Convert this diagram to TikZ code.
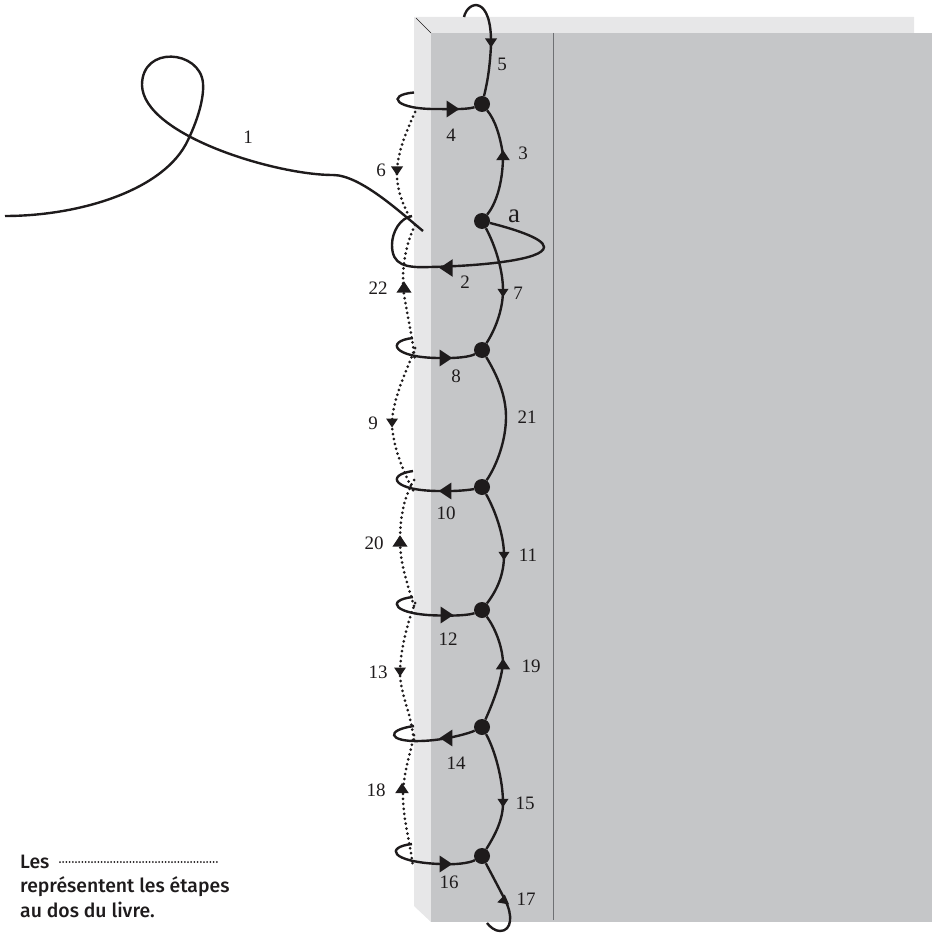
\documentclass[tikz,border=0pt]{standalone}
\usepackage{fontspec}
\setmainfont{Liberation Serif}
\newfontfamily\legendfont{Fira Sans Medium}
\usetikzlibrary{calc}
\definecolor{pagegray}{RGB}{197,198,200}
\definecolor{edgegray}{RGB}{231,231,232}
\definecolor{rulegray}{RGB}{110,112,115}
\definecolor{ink}{RGB}{30,27,28}
\tikzset{
  thread/.style={draw=ink,line width=2.4pt,line cap=butt},
  backthread/.style={draw=ink,line width=3pt,line cap=round,dash pattern=on 0pt off 5pt},
  knot/.style={circle,fill=ink,inner sep=0pt,minimum size=16pt},
  num/.style={text=ink,font=\fontsize{19}{21}\selectfont,inner sep=0pt},
  legendtext/.style={text=ink,font=\legendfont\fontsize{19.4}{21}\selectfont,inner sep=0pt,anchor=base west},
}
\newcommand{\tip}[4]{\fill[ink,shift={(#1,#2)},rotate=#3,scale=#4] (6,0) -- (-6,-8) -- (-6,8) -- cycle;}
\begin{document}
\begin{tikzpicture}[x=1pt,y=-1pt]
\useasboundingbox (0,0) rectangle (932,933);
% book
\fill[edgegray] (414,17) -- (914,17) -- (914,33) -- (431,33) -- (431,922) -- (414,906) -- cycle;
\fill[pagegray] (431,33) rectangle (932,922);
\draw[ink,line width=0.6pt] (416,18) -- (431,33);
\draw[rulegray,line width=1.1pt] (553.5,33) -- (553.5,920);
% knots
\node[knot] (k4) at (482,104) {};
\node[knot] (ka) at (482,221) {};
\node[knot] (k8) at (482,350) {};
\node[knot] (k10) at (482,487) {};
\node[knot] (k12) at (482,610) {};
\node[knot] (k14) at (482,727) {};
\node[knot] (k16) at (482,856) {};
% free ends
\coordinate (e5) at (464,17);
\coordinate (e4) at (414,92.5);
\coordinate (e2) at (412,216);
\coordinate (e8) at (413,338);
\coordinate (e10) at (413,471);
\coordinate (e12) at (413,597);
\coordinate (e14) at (414,726);
\coordinate (e16) at (412,844);
\coordinate (e17) at (487,923);
\coordinate (t0) at (5,216);
\coordinate (t1) at (423,231);
% back stitches
\draw[backthread] (415,112) .. controls (405,135) and (396,155) .. (397,178) .. controls (398,192) and (403,205) .. (411,220);
\draw[backthread] (415,225) .. controls (408,240) and (403,258) .. (403,280) .. controls (403,300) and (410,320) .. (415,360);
\draw[backthread] (415,348) .. controls (405,375) and (392,400) .. (392,425) .. controls (393,445) and (402,470) .. (414,492);
\draw[backthread] (414,480) .. controls (405,495) and (400,515) .. (400,540) .. controls (400,565) and (408,585) .. (414,606);
\draw[backthread] (415,603) .. controls (407,625) and (400,650) .. (400,675) .. controls (401,695) and (410,710) .. (414,740);
\draw[backthread] (414,735) .. controls (410,755) and (403,775) .. (403,795) .. controls (403,820) and (410,840) .. (413,868);
% thread 1
\draw[thread] (t0) .. controls (80,216) and (165,190) .. (188,140)
  .. controls (200,115) and (204,95) .. (203,83)
  .. controls (200,50) and (142,45) .. (142,85)
  .. controls (143,135) and (275,175) .. (333,175)
  .. controls (360,175) and (400,212) .. (t1);
% 5, 4
\draw[thread] (e5) .. controls (468,0) and (492,-5) .. (491,45) .. controls (490,65) and (488,80) .. (k4);
\draw[thread] (e4) .. controls (385,95) and (395,110) .. (440,109) .. controls (455,109.5) and (470,109) .. (k4);
% a 3
\draw[thread] (ka) .. controls (495,205) and (503,185) .. (503,155) .. controls (500,135) and (495,120) .. (k4);
% 2
\draw[thread] (ka) .. controls (510,228) and (544,238) .. (544,247) .. controls (544,260) and (480,266) .. (430,267)
  .. controls (405,268) and (392,265) .. (392,245) .. controls (392,232) and (400,218) .. (e2);
% 7
\draw[thread] (ka) .. controls (495,245) and (503,270) .. (503,290) .. controls (503,310) and (495,330) .. (k8);
% 8
\draw[thread] (e8) .. controls (385,341) and (393,358) .. (440,358) .. controls (455,358.5) and (470,357) .. (k8);
% 21
\draw[thread] (k8) .. controls (497,375) and (506,395) .. (506,417) .. controls (506,440) and (497,465) .. (k10);
% 10
\draw[thread] (e10) .. controls (385,475) and (393,491) .. (440,491) .. controls (455,491.5) and (470,490) .. (k10);
% 11
\draw[thread] (k10) .. controls (495,510) and (504,535) .. (504,555) .. controls (504,575) and (497,590) .. (k12);
% 12
\draw[thread] (e12) .. controls (385,600) and (393,615) .. (440,615.5) .. controls (455,616) and (470,615) .. (k12);
% 19
\draw[thread] (k14) .. controls (492,705) and (502,680) .. (503,662) .. controls (502,645) and (495,628) .. (k12);
% 14
\draw[thread] (e14) .. controls (385,730) and (388,742) .. (420,741) .. controls (445,740.5) and (470,733) .. (k14);
% 15
\draw[thread] (k14) .. controls (495,750) and (503,780) .. (503,803) .. controls (503,820) and (495,835) .. (k16);
% 16
\draw[thread] (e16) .. controls (385,847) and (390,862) .. (440,864) .. controls (455,865) and (470,863) .. (k16);
% 17
\draw[thread] (k16) .. controls (492,875) and (500,890) .. (505,900) .. controls (513,915) and (512,931) .. (500,931) .. controls (495,931) and (490,927) .. (e17);
% arrowheads
\tip{491}{43}{-90}{0.75}
\tip{453}{109}{0}{1.05}
\tip{503}{155}{90}{0.85}
\tip{446}{268}{180}{1.1}
\tip{503}{293}{-90}{0.7}
\tip{397}{171}{-90}{0.75}
\tip{404}{287}{90}{0.95}
\tip{446}{358}{0}{1.05}
\tip{392}{423}{-90}{0.75}
\tip{445}{491}{180}{1.05}
\tip{400}{541}{90}{0.95}
\tip{504}{556}{-90}{0.7}
\tip{447}{615}{0}{1.05}
\tip{400}{672}{-90}{0.75}
\tip{503}{664}{90}{0.9}
\tip{446}{738}{180}{1.05}
\tip{402}{788}{90}{0.85}
\tip{503}{803}{-90}{0.7}
\tip{446}{864}{0}{1.05}
\tip{504}{899}{80}{0.75}
% labels
\node[num] (l1) at (248,137) {1};
\node[num] (l2) at (465,282) {2};
\node[num] (l3) at (523,153) {3};
\node[num] (l4) at (451,135) {4};
\node[num] (l5) at (502,64) {5};
\node[num] (l6) at (381,170) {6};
\node[num] (l7) at (518,293) {7};
\node[num] (l8) at (456,376) {8};
\node[num] (l9) at (373,423) {9};
\node[num] (l10) at (446,513) {10};
\node[num] (l11) at (528,555) {11};
\node[num] (l12) at (448,639) {12};
\node[num] (l13) at (378,672) {13};
\node[num] (l14) at (456,763) {14};
\node[num] (l15) at (525,803) {15};
\node[num] (l16) at (449,882) {16};
\node[num] (l17) at (526,899) {17};
\node[num] (l18) at (376,790) {18};
\node[num] (l19) at (531,666) {19};
\node[num] (l20) at (374,543) {20};
\node[num] (l21) at (527,417) {21};
\node[num] (l22) at (378,288) {22};
\node[num,font=\fontsize{27}{29}\selectfont] (la) at (514,216) {a};
% legend
\node[legendtext] (lg1) at (20,868) {Les};
\node[legendtext] (lg2) at (20,892.5) {représentent les étapes};
\node[legendtext] (lg3) at (20,917) {au dos du livre.};
\draw[draw=ink,line width=2pt,line cap=round,dash pattern=on 0pt off 3.2pt] (60,862) -- (217,862);
\end{tikzpicture}
\end{document}
